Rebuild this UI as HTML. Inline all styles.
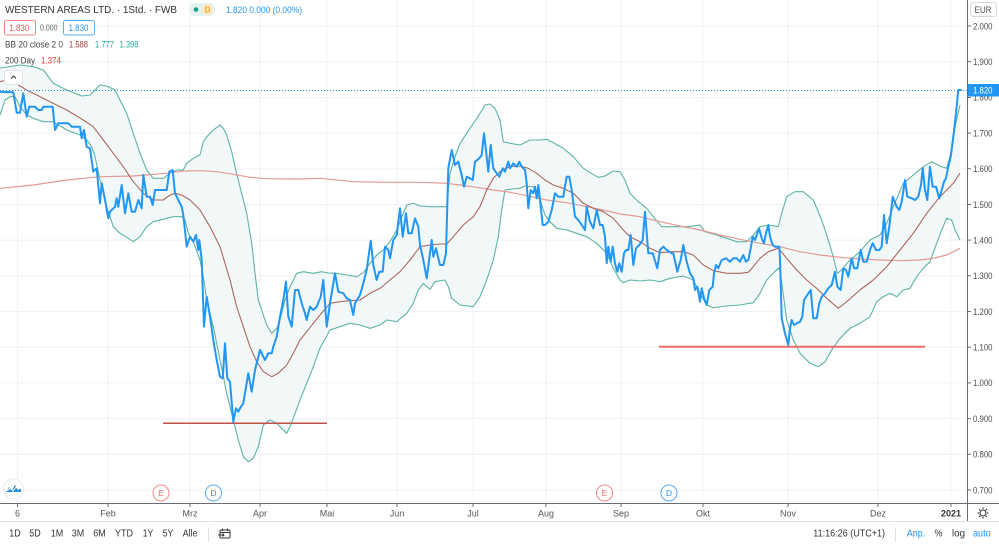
<!DOCTYPE html>
<html><head><meta charset="utf-8"><style>
html,body{margin:0;padding:0;background:#fff;}
svg{display:block;font-family:"Liberation Sans",sans-serif;}
</style></head><body>
<svg width="999" height="546" viewBox="0 0 999 546" xmlns="http://www.w3.org/2000/svg">
<rect width="999" height="546" fill="#fff"/>
<!-- grid -->
<g stroke="#eef2f6" stroke-width="1">
<line x1="0" y1="26" x2="967" y2="26"/><line x1="0" y1="61.7" x2="967" y2="61.7"/><line x1="0" y1="97.4" x2="967" y2="97.4"/><line x1="0" y1="133.1" x2="967" y2="133.1"/><line x1="0" y1="168.8" x2="967" y2="168.8"/><line x1="0" y1="204.5" x2="967" y2="204.5"/><line x1="0" y1="240.1" x2="967" y2="240.1"/><line x1="0" y1="275.8" x2="967" y2="275.8"/><line x1="0" y1="311.5" x2="967" y2="311.5"/><line x1="0" y1="347.2" x2="967" y2="347.2"/><line x1="0" y1="382.9" x2="967" y2="382.9"/><line x1="0" y1="418.6" x2="967" y2="418.6"/><line x1="0" y1="454.3" x2="967" y2="454.3"/><line x1="0" y1="490" x2="967" y2="490"/>
<line x1="17.5" y1="0" x2="17.5" y2="503"/><line x1="108" y1="0" x2="108" y2="503"/><line x1="190" y1="0" x2="190" y2="503"/><line x1="260" y1="0" x2="260" y2="503"/><line x1="327" y1="0" x2="327" y2="503"/><line x1="397" y1="0" x2="397" y2="503"/><line x1="473" y1="0" x2="473" y2="503"/><line x1="546" y1="0" x2="546" y2="503"/><line x1="621" y1="0" x2="621" y2="503"/><line x1="703" y1="0" x2="703" y2="503"/><line x1="788" y1="0" x2="788" y2="503"/><line x1="878" y1="0" x2="878" y2="503"/><line x1="951" y1="0" x2="951" y2="503"/>
</g>
<!-- band fill -->
<polygon fill="#f1f8f7" points="0,68 20,65 33.3,66.7 43.3,70 53.3,83.3 66.7,90 81.7,96 90,95 96.7,88.3 100,85 106.7,86 115,90 120,100 126.7,113.3 133.3,133.3 140,153.3 146.7,170 153.3,178.3 163.3,178.3 170,173.3 176.7,170 183.3,170 186.7,163.3 193.3,158.3 200,155 203.3,141.7 208.3,135 213.3,130 220,125 223.3,128.3 226.7,135 231.7,151.7 235,166.7 240,186.7 246.7,213.3 251.7,243.3 255,273.3 258.3,300 261.7,310 266.7,325 271.7,333.3 276.7,328.3 280,320 285,300 290,286.7 296.7,273.3 303.3,271.7 313.3,273.3 321.7,271.7 328.3,273 336.7,273.3 346.7,275 356.7,276.7 363.3,272.7 370,263.3 376.7,255 383.3,250 390,241.7 396.7,230 403.3,213.3 406.7,205 413.3,203.3 420,206 430,206.7 440,206.7 446.7,206.7 450,173.3 455,156.7 460,143.3 466.7,133.3 473.3,123.3 480,113.3 485,105 490,104 495,108.3 500,120 503.3,141.7 510,143.3 520,145 530,140 540,140 546.7,139.3 553.3,142.7 563.3,148.3 573.3,156.7 583.3,168.3 590,172.7 598.3,177.3 605,176 613.3,171 620,171.7 625,180 630,193.3 638.3,201.7 646.7,208.3 653.3,216.7 661.7,226.7 673.3,226.7 686.7,226.7 700,225 705,231.7 716.7,235 726.7,238.3 736.7,241.7 746.7,241.7 753.3,235 760,226.7 768.3,225 778.3,226.7 781.7,213.3 786.7,196.7 795,191.7 803.3,191.7 813.3,200 821.7,220 828.3,240 833.3,256.7 837.3,273.3 841.7,270 848.3,261.7 860,251.7 870,240 880,235 886.7,223.3 893.3,206.7 903.3,183.3 913.3,175 923.3,166.7 931.7,161.7 940,166 946.7,168.3 951.7,150 955,126.7 960,105 960,240 955,230 951.7,220 946.7,218.3 941.7,230 936.7,243.3 930,261.7 923.3,268.3 916.7,276.7 910,288.3 903.3,290 896.7,296.7 890,293.3 883.3,296.7 876.7,301.7 870,316.7 860,323.3 850,328.3 840,338.3 831.7,350 825,361.7 818.3,366.7 810,363.3 800,353.3 793.3,340 786.7,320 780,270 778.3,268.3 773.3,273.3 766.7,280 760,293.3 753.3,302.7 740,305 726.7,306 713.3,307.7 706.7,305 700,293.3 693.3,280 683.3,276 670,278.3 660,281.7 650,280 640,281 630,280 623.3,282.7 620,280 613.3,268.3 606.7,253.3 596.7,243.3 586.7,236.7 576.7,233.3 566.7,230 556.7,228.3 550,221.7 545,215 540,200 533.3,186.7 528.3,186.7 525,186 520,188.3 511.7,189 505,190 501.7,210 498.3,236.7 493.3,260 486.7,280 480,296.7 473.3,306.7 460,305 451.7,298.3 448.3,286.7 445,280 435,281.7 430,289.3 426.7,286.7 423.3,283.3 418.3,290 413.3,303.3 406.7,313.3 396.7,321.7 386.7,320 380,325 370,328.3 360,325 350,323.3 340,326.7 330,330 320,348 313.3,366.7 306.7,383.3 300,400 293.3,418.3 290,426.7 286.7,433.3 281.7,428.3 276.7,423.3 270,420 263.3,425 258.3,446.7 253.3,458.3 248.3,461.7 243.3,456.7 238.3,440 233.3,420 226.7,393.3 220,360 213.3,326.7 206.7,300 203.3,276.7 200,260 193.3,241.7 188.3,233.3 185,220 181.7,216.7 173.3,216.7 163.3,219.3 153.3,221.7 146.7,226.7 140,236.7 133.3,241.7 128.3,238.3 120,233.3 113.3,226.7 106.7,206.7 100,180 95,156.7 91.7,146.7 86.7,140 80,135 66.7,130 53.3,121.7 43.3,121.7 33.3,118.3 26.7,115 20,106.7 15,96.7 10,96.7 5,100 0,115"/>
<!-- bands -->
<g fill="none" stroke="#5eb3a5" stroke-width="1.1" stroke-linejoin="round">
<polyline points="0,68 20,65 33.3,66.7 43.3,70 53.3,83.3 66.7,90 81.7,96 90,95 96.7,88.3 100,85 106.7,86 115,90 120,100 126.7,113.3 133.3,133.3 140,153.3 146.7,170 153.3,178.3 163.3,178.3 170,173.3 176.7,170 183.3,170 186.7,163.3 193.3,158.3 200,155 203.3,141.7 208.3,135 213.3,130 220,125 223.3,128.3 226.7,135 231.7,151.7 235,166.7 240,186.7 246.7,213.3 251.7,243.3 255,273.3 258.3,300 261.7,310 266.7,325 271.7,333.3 276.7,328.3 280,320 285,300 290,286.7 296.7,273.3 303.3,271.7 313.3,273.3 321.7,271.7 328.3,273 336.7,273.3 346.7,275 356.7,276.7 363.3,272.7 370,263.3 376.7,255 383.3,250 390,241.7 396.7,230 403.3,213.3 406.7,205 413.3,203.3 420,206 430,206.7 440,206.7 446.7,206.7 450,173.3 455,156.7 460,143.3 466.7,133.3 473.3,123.3 480,113.3 485,105 490,104 495,108.3 500,120 503.3,141.7 510,143.3 520,145 530,140 540,140 546.7,139.3 553.3,142.7 563.3,148.3 573.3,156.7 583.3,168.3 590,172.7 598.3,177.3 605,176 613.3,171 620,171.7 625,180 630,193.3 638.3,201.7 646.7,208.3 653.3,216.7 661.7,226.7 673.3,226.7 686.7,226.7 700,225 705,231.7 716.7,235 726.7,238.3 736.7,241.7 746.7,241.7 753.3,235 760,226.7 768.3,225 778.3,226.7 781.7,213.3 786.7,196.7 795,191.7 803.3,191.7 813.3,200 821.7,220 828.3,240 833.3,256.7 837.3,273.3 841.7,270 848.3,261.7 860,251.7 870,240 880,235 886.7,223.3 893.3,206.7 903.3,183.3 913.3,175 923.3,166.7 931.7,161.7 940,166 946.7,168.3 951.7,150 955,126.7 960,105"/>
<polyline points="0,115 5,100 10,96.7 15,96.7 20,106.7 26.7,115 33.3,118.3 43.3,121.7 53.3,121.7 66.7,130 80,135 86.7,140 91.7,146.7 95,156.7 100,180 106.7,206.7 113.3,226.7 120,233.3 128.3,238.3 133.3,241.7 140,236.7 146.7,226.7 153.3,221.7 163.3,219.3 173.3,216.7 181.7,216.7 185,220 188.3,233.3 193.3,241.7 200,260 203.3,276.7 206.7,300 213.3,326.7 220,360 226.7,393.3 233.3,420 238.3,440 243.3,456.7 248.3,461.7 253.3,458.3 258.3,446.7 263.3,425 270,420 276.7,423.3 281.7,428.3 286.7,433.3 290,426.7 293.3,418.3 300,400 306.7,383.3 313.3,366.7 320,348 330,330 340,326.7 350,323.3 360,325 370,328.3 380,325 386.7,320 396.7,321.7 406.7,313.3 413.3,303.3 418.3,290 423.3,283.3 426.7,286.7 430,289.3 435,281.7 445,280 448.3,286.7 451.7,298.3 460,305 473.3,306.7 480,296.7 486.7,280 493.3,260 498.3,236.7 501.7,210 505,190 511.7,189 520,188.3 525,186 528.3,186.7 533.3,186.7 540,200 545,215 550,221.7 556.7,228.3 566.7,230 576.7,233.3 586.7,236.7 596.7,243.3 606.7,253.3 613.3,268.3 620,280 623.3,282.7 630,280 640,281 650,280 660,281.7 670,278.3 683.3,276 693.3,280 700,293.3 706.7,305 713.3,307.7 726.7,306 740,305 753.3,302.7 760,293.3 766.7,280 773.3,273.3 778.3,268.3 780,270 786.7,320 793.3,340 800,353.3 810,363.3 818.3,366.7 825,361.7 831.7,350 840,338.3 850,328.3 860,323.3 870,316.7 876.7,301.7 883.3,296.7 890,293.3 896.7,296.7 903.3,290 910,288.3 916.7,276.7 923.3,268.3 930,261.7 936.7,243.3 941.7,230 946.7,218.3 951.7,220 955,230 960,240"/>
</g>
<!-- 200 day -->
<polyline fill="none" stroke="#e39a94" stroke-width="1.2" points="0,188.3 33.3,185 66.7,180 100,176.7 133.3,176 166.7,173.3 183.3,171 200,170.7 216.7,171.7 233.3,174.3 250,177.3 266.7,178.7 300,179 320,178.3 353.3,181.7 386.7,182.3 420,182.3 446.7,183.3 460,185 476.7,187.3 493.3,190 510,192.3 526.7,195.7 546.7,200 566.7,202.7 586.7,206.7 603.3,210 620,214 640,216.7 660,221.7 680,226 700,230 720,235 740,239.3 760,243.3 780,246.7 800,251.7 820,255 840,257.3 860,259 880,260 900,260.7 920,260 933.3,258.3 946.7,255 960,248.3"/>
<!-- basis -->
<polyline fill="none" stroke="#ad6660" stroke-width="1.1" stroke-linejoin="round" points="0,81.7 6.7,80 13.3,81.7 18.3,85 26.7,90 36.7,95 50,101.7 66.7,110 83.3,120 93.3,126.7 103.3,140 113.3,153.3 123.3,166.7 133.3,181.7 143.3,193.3 153.3,200 163.3,200 170,195 175,193.3 181.7,195 190,200 200,210 210,226.7 220,246.7 230,280 236.7,306.7 243.3,326.7 250,346.7 256.7,361.7 263.3,371.7 271.7,376.7 278.3,373.3 286.7,365 293.3,353.3 300,340 306.7,331.7 313.3,323.3 320,315 330,303.3 340,301.7 350,300.7 360,300 370,293.3 380,288.3 390,280 400,271.7 410,260 420,246.7 430,245 440,244 446.7,244 453.3,236.7 463.3,225 473.3,216.7 480,206.7 486.7,190 493.3,178.3 501.7,170 510,166.7 520,166 528.3,168.3 536.7,173.3 545,180 553.3,185 563.3,188.3 573.3,193.3 583.3,203.3 593.3,208.3 603.3,211.7 613.3,218.3 623.3,230 630,236.7 640,241.7 650,248.3 660,252.7 673.3,251.7 683.3,251.7 693.3,255 703.3,265 713.3,270.7 726.7,273.3 740,273.3 748.3,272.3 753.3,266.7 760,258.3 768.3,251.7 778.3,248.3 786.7,258.3 796.7,270 806.7,280 816.7,288.3 826.7,298.3 838.3,308.3 846.7,301.7 860,290 873.3,280 886.7,266.7 900,250 913.3,233.3 926.7,213.3 940,196.7 953.3,183.3 960,173.3"/>
<!-- horizontal red lines -->
<line x1="163" y1="423.3" x2="327" y2="423.3" stroke="#c0504a" stroke-width="1.5"/>
<line x1="659" y1="346.8" x2="925" y2="346.8" stroke="#ee6b6b" stroke-width="2"/>
<!-- dotted price line -->
<line x1="0" y1="90.5" x2="967" y2="90.5" stroke="#2196f3" stroke-width="1" stroke-dasharray="1,2"/>
<!-- price -->
<polyline fill="none" stroke="#2196f3" stroke-width="2" stroke-linejoin="round" points="0,91.7 13.3,92.3 16.7,112.7 20,112.7 23.3,93.3 26.7,116.7 29.3,106.7 35,106.7 38.3,110 41.7,110 43.3,106.7 52.7,106.7 55,130 58.3,123.3 68.3,123.3 71.7,126.7 80,126.7 81.7,138.3 84,130 86.7,146.7 90,148.3 93.3,171.7 96.7,168.3 100,203.3 101.7,183.3 105,200 108.3,218.3 110,211.7 115,206.7 116.7,198.3 118.3,206.7 121.7,185 125,213.3 128.3,193.3 131.7,211.7 135,211.7 138.3,200 141.7,208.3 143.3,175 146.7,196.7 150,196.7 152.7,205 155,190 166.7,190 169.3,171.7 172.7,170 175,193.3 181.7,206.7 183.3,215 186.7,246.7 190,236.7 193.3,241.7 196,235 198.3,250 199.3,240 201.7,260 204,326.7 206.7,296.7 210,316.7 213.3,340 216.7,360 220,376.7 222.7,378.3 225,343.3 227.3,378.3 230,381.7 233.3,421.7 236,408.3 238.3,411.7 240,408.3 243.3,403.3 248.3,373.3 251.7,391.7 255,370 260,350 265,360 268.3,353.3 271.7,353.3 273.3,346.7 276.7,336.7 280,316.7 283.3,300 286,281.7 288.3,316.7 291.7,326.7 295,290 298.3,290 301.7,303.3 305,313.3 306.7,320 310,306.7 313.3,310 316.7,306.7 320.7,296.7 323.3,280 326.7,326.7 330,303.3 335,273.3 338.3,291.7 343.3,293.3 346.7,298.3 350,300 353.3,315 355,303.3 360,295 363.3,283.3 366.7,270 370.7,240.7 373.3,265 376.7,280 379.3,271.7 382.7,271.7 385,246.7 388.3,250 390,258.3 393.3,240 396.7,235 400,208.3 402.7,236.7 406,213.3 408.3,233.3 411.7,233.3 415,218.3 418.3,226.7 420,245 423.3,260 426.7,278.3 431.7,240 433.3,256.7 436,248.3 438.3,258.3 440,265 443.3,265 446,253.3 448.3,168.3 451.7,150 455,165 458.3,161.7 461.7,175 464,186.7 466.7,176.7 470,178.3 472.7,180 475,161.7 479.3,158.3 481.7,155 484,133.3 486.7,156.7 488.3,171.7 490.7,145 493.3,168.3 496.7,173.3 499.3,176.7 502.7,168.3 505,171.7 508.3,161.7 510,168.3 513.3,163.3 516.7,166.7 519.3,161.7 521.7,166.7 525,170 526.7,183.3 528.3,208.3 530.7,190 533.3,193.3 535,186.7 536.7,198.3 538.3,185 540,200 542.7,225 545,225 548.3,221.7 551.7,210 555,193.3 558.3,196.7 563.3,196.7 566.7,176.7 569.3,176.7 571.7,190 575,216.7 578.3,220 581.7,225 585,230 586.7,206.7 590,221.7 593.3,228.3 596.7,210 600,225 602.7,225 605,236.7 606.7,263.3 608.3,246.7 610.7,261.7 612.7,246.7 615,263.3 617.3,271.7 619.3,263.3 621.7,271.7 624,253.3 626,250 628.3,250 630.7,235 633.3,265 636,248.3 639.3,245 642.7,240 645,211.7 648.3,253.3 652.7,253.3 657.3,268.3 660,250 663.3,246.7 666.7,250 671.7,253.3 673.3,253.3 677.3,271.7 680.7,260 683.3,245 686.7,261.7 690,273.3 693.3,278.3 695,290 697.3,286.7 700,301.7 701.7,288.3 704,298.3 706.7,305 709.3,290 712.7,286.7 714,273.3 716,265 718.3,268.3 721.7,260 726,258.3 730,261.7 733.3,258.3 736.7,258.3 740,261.7 743.3,255 746,261.7 748.3,260 750.7,248.3 752.7,236.7 755,240 756.7,235 759,228.3 761.7,238.3 764,243.3 766,233.3 768.3,225 770,236.7 772.7,245 775,246.7 779.3,246.7 780,260 781.7,318.3 785,333.3 788.3,345 790,328.3 791.7,320 794,325 796.7,323.3 800,321.7 802.3,316.7 804,300 807.3,295 810.7,290 813.3,318.3 816.7,318.3 819.3,303.3 821.7,296.7 825,293.3 828.3,288.3 831.7,285 835,271.7 837.3,286.7 840.7,290 843.3,268.3 846,270 848.3,276.7 851.7,258.3 854,268.3 857.3,268.3 860.7,250 863.3,261.7 866.7,261.7 870,250 872.7,243.3 876,250 879.3,250 881.7,246.7 884,215 886.7,243.3 889.3,226.7 892.7,196.7 896.7,206.7 899.3,210 901.7,201.7 905,180 907.3,196.7 911.7,198.3 915,200 918.3,196.7 921,185 922.7,168.3 925,190 927.3,200 930,166.7 932.7,186.7 936,186.7 939.3,198.3 941.7,190 944,181.7 946,178.3 948.3,166.7 950.7,156.7 953.3,136.7 956,113.3 958.3,90 961.7,90"/>

<!-- axes -->
<rect x="967" y="0" width="32" height="521" fill="#fff"/>
<line x1="967.5" y1="0" x2="967.5" y2="521" stroke="#6a6d78" stroke-width="1"/>
<line x1="0" y1="503.5" x2="999" y2="503.5" stroke="#6a6d78" stroke-width="1"/>
<line x1="0" y1="521.5" x2="999" y2="521.5" stroke="#e0e3eb" stroke-width="1"/>
<g stroke="#6a6d78" stroke-width="1">
<line x1="967" y1="26" x2="971" y2="26"/><line x1="967" y1="61.7" x2="971" y2="61.7"/><line x1="967" y1="97.4" x2="971" y2="97.4"/><line x1="967" y1="133.1" x2="971" y2="133.1"/><line x1="967" y1="168.8" x2="971" y2="168.8"/><line x1="967" y1="204.5" x2="971" y2="204.5"/><line x1="967" y1="240.1" x2="971" y2="240.1"/><line x1="967" y1="275.8" x2="971" y2="275.8"/><line x1="967" y1="311.5" x2="971" y2="311.5"/><line x1="967" y1="347.2" x2="971" y2="347.2"/><line x1="967" y1="382.9" x2="971" y2="382.9"/><line x1="967" y1="418.6" x2="971" y2="418.6"/><line x1="967" y1="454.3" x2="971" y2="454.3"/><line x1="967" y1="490" x2="971" y2="490"/>
<line x1="17.5" y1="503" x2="17.5" y2="507"/><line x1="108" y1="503" x2="108" y2="507"/><line x1="190" y1="503" x2="190" y2="507"/><line x1="260" y1="503" x2="260" y2="507"/><line x1="327" y1="503" x2="327" y2="507"/><line x1="397" y1="503" x2="397" y2="507"/><line x1="473" y1="503" x2="473" y2="507"/><line x1="546" y1="503" x2="546" y2="507"/><line x1="621" y1="503" x2="621" y2="507"/><line x1="703" y1="503" x2="703" y2="507"/><line x1="788" y1="503" x2="788" y2="507"/><line x1="878" y1="503" x2="878" y2="507"/><line x1="951" y1="503" x2="951" y2="507"/>
</g>
<g font-size="9.5" fill="#4a4a4a">
<text x="973" y="29.3" textLength="19.5" lengthAdjust="spacingAndGlyphs">2.000</text><text x="973" y="65" textLength="19.5" lengthAdjust="spacingAndGlyphs">1.900</text><text x="973" y="100.7" textLength="19.5" lengthAdjust="spacingAndGlyphs">1.800</text><text x="973" y="136.4" textLength="19.5" lengthAdjust="spacingAndGlyphs">1.700</text><text x="973" y="172.1" textLength="19.5" lengthAdjust="spacingAndGlyphs">1.600</text><text x="973" y="207.8" textLength="19.5" lengthAdjust="spacingAndGlyphs">1.500</text><text x="973" y="243.4" textLength="19.5" lengthAdjust="spacingAndGlyphs">1.400</text><text x="973" y="279.1" textLength="19.5" lengthAdjust="spacingAndGlyphs">1.300</text><text x="973" y="314.8" textLength="19.5" lengthAdjust="spacingAndGlyphs">1.200</text><text x="973" y="350.5" textLength="19.5" lengthAdjust="spacingAndGlyphs">1.100</text><text x="973" y="386.2" textLength="19.5" lengthAdjust="spacingAndGlyphs">1.000</text><text x="973" y="421.9" textLength="19.5" lengthAdjust="spacingAndGlyphs">0.900</text><text x="973" y="457.6" textLength="19.5" lengthAdjust="spacingAndGlyphs">0.800</text><text x="973" y="493.3" textLength="19.5" lengthAdjust="spacingAndGlyphs">0.700</text>
</g>
<!-- price label -->
<rect x="968" y="84" width="31" height="12.5" fill="#2196f3"/>
<text x="973" y="93.6" font-size="9.5" fill="#fff" textLength="19.5" lengthAdjust="spacingAndGlyphs">1.820</text>
<!-- EUR -->
<rect x="970.5" y="2.5" width="26" height="14" rx="3" fill="#fff" stroke="#d6d8de"/>
<text x="974.5" y="12.8" font-size="9" fill="#555" textLength="17" lengthAdjust="spacingAndGlyphs">EUR</text>
<!-- x labels -->
<g font-size="9" fill="#555" text-anchor="middle">
<text x="17.5" y="516.7">6</text><text x="108" y="516.7">Feb</text><text x="190" y="516.7">Mrz</text><text x="260" y="516.7">Apr</text><text x="327" y="516.7">Mai</text><text x="397" y="516.7">Jun</text><text x="473" y="516.7">Jul</text><text x="546" y="516.7">Aug</text><text x="621" y="516.7">Sep</text><text x="703" y="516.7">Okt</text><text x="788" y="516.7">Nov</text><text x="878" y="516.7">Dez</text><text x="951" y="516.7" font-weight="bold" fill="#333">2021</text>
</g>
<!-- gear -->
<g transform="translate(983,513)" stroke="#333" fill="none" stroke-width="1.1">
<circle r="3"/>
<path d="M0,-5.5 V-4 M0,5.5 V4 M-5.5,0 H-4 M5.5,0 H4 M-3.9,-3.9 L-2.8,-2.8 M3.9,3.9 L2.8,2.8 M-3.9,3.9 L-2.8,2.8 M3.9,-3.9 L2.8,-2.8"/>
</g>
<!-- event markers -->
<g font-size="8.5" text-anchor="middle">
<circle cx="161" cy="493" r="8" fill="#fff" stroke="#f08a8a"/><text x="161" y="496" fill="#ef6b6b">E</text>
<circle cx="213.5" cy="493" r="8" fill="#fff" stroke="#5aaef5"/><text x="213.5" y="496" fill="#2196f3">D</text>
<circle cx="604.5" cy="493" r="8" fill="#fff" stroke="#f08a8a"/><text x="604.5" y="496" fill="#ef6b6b">E</text>
<circle cx="669" cy="493" r="8" fill="#fff" stroke="#5aaef5"/><text x="669" y="496" fill="#2196f3">D</text>
</g>
<!-- logo -->
<circle cx="13.5" cy="489" r="10" fill="#fff" stroke="#e6e8ee"/>
<path d="M6,492 L9,487 L12,490 L15,485 L18,489 L21,489 L21,492 Z" fill="#2a8bd8"/>
<path d="M7,491 L10,488 L13,491 L16,487 L19,490" fill="none" stroke="#fff" stroke-width="1"/>
<!-- header -->
<text x="5" y="12.8" font-size="10" fill="#333" textLength="172" lengthAdjust="spacingAndGlyphs">WESTERN AREAS LTD. · 1Std. · FWB</text>
<rect x="189" y="3" width="26" height="13" rx="6.5" fill="#e3f2ef"/>
<circle cx="196" cy="9.5" r="2.3" fill="#1f9d8b"/>
<circle cx="207.5" cy="9.5" r="5.5" fill="#fde7c8"/>
<text x="207.5" y="12.5" font-size="8" fill="#f5a623" text-anchor="middle" font-weight="bold">D</text>
<text x="226" y="12.8" font-size="9.5" fill="#2196f3" textLength="76" lengthAdjust="spacingAndGlyphs">1.820 0.000 (0.00%)</text>
<rect x="4.5" y="20.5" width="31" height="14.5" rx="2" fill="#fff" stroke="#f08a8a"/>
<text x="9.3" y="30.8" font-size="9.5" fill="#ef5350" textLength="20" lengthAdjust="spacingAndGlyphs">1.830</text>
<text x="40" y="30.5" font-size="8" fill="#666" textLength="17.5" lengthAdjust="spacingAndGlyphs">0.000</text>
<rect x="63.5" y="20.5" width="31" height="14.5" rx="2" fill="#fff" stroke="#5aaef5"/>
<text x="68.5" y="30.8" font-size="9.5" fill="#2196f3" textLength="20" lengthAdjust="spacingAndGlyphs">1.830</text>
<text x="5" y="47.5" font-size="9.5" fill="#444" textLength="58" lengthAdjust="spacingAndGlyphs">BB 20 close 2 0</text>
<text x="69" y="47.5" font-size="9.5" fill="#a2403c" textLength="19" lengthAdjust="spacingAndGlyphs">1.588</text>
<text x="95" y="47.5" font-size="9.5" fill="#26a69a" textLength="19" lengthAdjust="spacingAndGlyphs">1.777</text>
<text x="119.5" y="47.5" font-size="9.5" fill="#26a69a" textLength="19" lengthAdjust="spacingAndGlyphs">1.398</text>
<text x="5" y="63.5" font-size="9.5" fill="#444" textLength="30" lengthAdjust="spacingAndGlyphs">200 Day</text>
<text x="41" y="63.5" font-size="9.5" fill="#e53935" textLength="20" lengthAdjust="spacingAndGlyphs">1.374</text>
<rect x="4.5" y="70.5" width="18" height="14" rx="2" fill="#fff" stroke="#e0e3eb"/>
<path d="M11,78.5 L13.5,76 L16,78.5" fill="none" stroke="#333" stroke-width="1.1"/>
<!-- bottom toolbar -->
<g font-size="10" fill="#333">
<text x="9.3" y="536.7" textLength="11.4" lengthAdjust="spacingAndGlyphs">1D</text><text x="29.3" y="536.7" textLength="11.4" lengthAdjust="spacingAndGlyphs">5D</text><text x="50.7" y="536.7" textLength="12.5" lengthAdjust="spacingAndGlyphs">1M</text><text x="71.7" y="536.7" textLength="12.5" lengthAdjust="spacingAndGlyphs">3M</text><text x="93.3" y="536.7" textLength="12.5" lengthAdjust="spacingAndGlyphs">6M</text><text x="115" y="536.7" textLength="18" lengthAdjust="spacingAndGlyphs">YTD</text><text x="142.7" y="536.7" textLength="10.5" lengthAdjust="spacingAndGlyphs">1Y</text><text x="162.7" y="536.7" textLength="10.5" lengthAdjust="spacingAndGlyphs">5Y</text><text x="182.7" y="536.7" textLength="14.7" lengthAdjust="spacingAndGlyphs">Alle</text>
<text x="813.3" y="536.7" textLength="71.7" lengthAdjust="spacingAndGlyphs">11:16:26 (UTC+1)</text>
<text x="906.7" y="536.7" fill="#2196f3" textLength="18.6" lengthAdjust="spacingAndGlyphs">Anp.</text>
<text x="934.5" y="536.7" textLength="8" lengthAdjust="spacingAndGlyphs">%</text>
<text x="952" y="536.7" textLength="13" lengthAdjust="spacingAndGlyphs">log</text>
<text x="973" y="536.7" fill="#2196f3" textLength="17.7" lengthAdjust="spacingAndGlyphs">auto</text>
</g>
<line x1="208.5" y1="527" x2="208.5" y2="542" stroke="#e0e3eb"/>
<line x1="895.5" y1="527" x2="895.5" y2="542" stroke="#e0e3eb"/>
<g fill="none" stroke="#333" stroke-width="1">
<rect x="220" y="530" width="10" height="8" rx="1"/>
<path d="M220,532.5 H230 M222.5,528.5 V531 M227.5,528.5 V531 M218,535 H224 M222.5,533.5 L224,535 L222.5,536.5"/>
</g>
</svg>
</body></html>
